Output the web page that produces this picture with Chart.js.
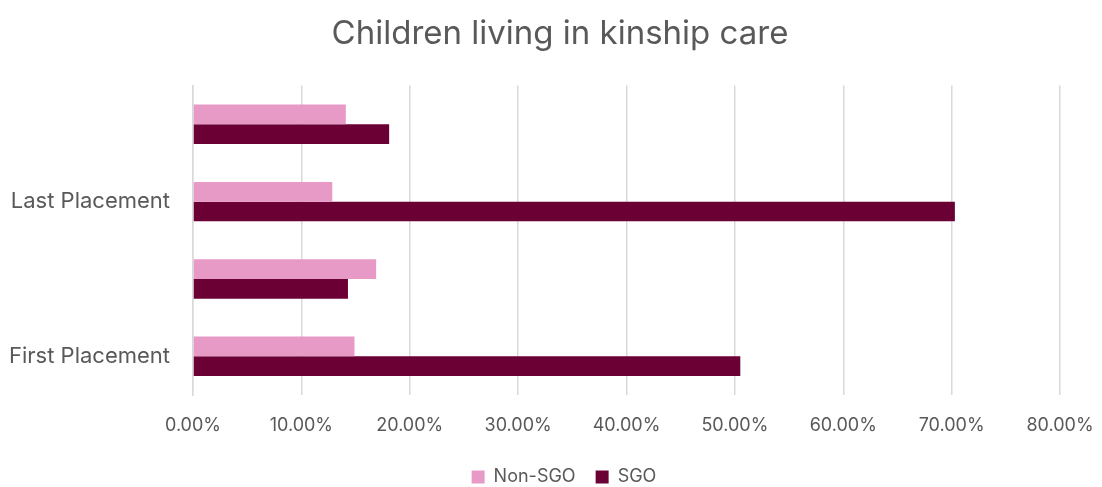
<!DOCTYPE html>
<html>
<head>
<meta charset="utf-8">
<script src="https://cdn.jsdelivr.net/npm/chart.js@4/dist/chart.umd.min.js"></script>
<style>
  html, body { margin: 0; padding: 0; background: #fff; }
  #wrap { width: 1102px; height: 487px; }
</style>
</head>
<body>
<div id="wrap"><canvas id="grafico"></canvas></div>
<script>
// categorias (de cima para baixo)
const categorias = ['', 'Last Placement', '', 'First Placement'];
const nonSgo = [14.1, 12.85, 16.9, 14.9];
const sgo = [18.1, 70.3, 14.3, 50.5];
const ticksX = [0, 10, 20, 30, 40, 50, 60, 70, 80];

const cinza = '#595959';
Chart.defaults.font.family = 'Inter, "Open Sans", sans-serif';

// desloca um bloco (titulo/legenda) na horizontal ao desenhar
function deslocar(bloco, dx) {
    if (!bloco || bloco._deslocado) return;
    const drawOrig = bloco.draw;
    bloco.draw = function() {
        const ctx = this.ctx;
        ctx.save();
        ctx.translate(dx, 0);
        drawOrig.apply(this, arguments);
        ctx.restore();
    };
    bloco._deslocado = true;
}

// legenda mais baixa sem perder o espaço entre os itens
const ajustesLayout = {
    id: 'ajustesLayout',
    beforeLayout(chart) {
        const lg = chart.legend;
        if (lg && !lg._ajustada) {
            const fitOrig = lg.fit;
            lg.fit = function() {
                fitOrig.call(this);
                this.height = 39;
            };
            lg._ajustada = true;
        }
        deslocar(chart.titleBlock, 9);
        deslocar(chart.legend, 13);
    }
};

new Chart(document.getElementById('grafico'), {
    type: 'bar',
    data: {
        labels: categorias,
        datasets: [
            {
                label: 'Non-SGO',
                data: nonSgo,
                backgroundColor: '#e89ac7',
                categoryPercentage: 0.51,
                barPercentage: 1
            },
            {
                label: 'SGO',
                data: sgo,
                backgroundColor: '#6b0035',
                categoryPercentage: 0.51,
                barPercentage: 1
            }
        ]
    },
    plugins: [ajustesLayout],
    options: {
        indexAxis: 'y',
        responsive: true,
        maintainAspectRatio: false,
        animation: false,
        layout: { padding: { left: 0, right: 0, top: 10, bottom: 0 } },
        plugins: {
            title: {
                display: true,
                text: 'Children living in kinship care',
                color: cinza,
                font: { size: 33, weight: 'normal' },
                padding: { top: 4, bottom: 32 }
            },
            legend: {
                position: 'bottom',
                labels: {
                    color: cinza,
                    font: { size: 18 },
                    boxWidth: 13,
                    boxHeight: 13,
                    padding: 20
                }
            },
            tooltip: { enabled: false }
        },
        scales: {
            x: {
                min: 0,
                max: 80,
                afterBuildTicks: axis => { axis.ticks = ticksX.map(v => ({ value: v })); },
                afterFit: axis => {
                    axis.height = 53;
                    axis.paddingRight = 42;
                },
                ticks: {
                    color: cinza,
                    font: { size: 18 },
                    padding: 20,
                    maxRotation: 0,
                    callback: v => v.toFixed(2) + '%'
                },
                grid: { color: '#d9d9d9', lineWidth: 1.5, drawTicks: false },
                border: { display: false }
            },
            y: {
                afterFit: axis => { axis.width = 193; },
                ticks: { color: cinza, font: { size: 22 }, padding: 23 },
                grid: { display: false, drawTicks: false },
                border: { display: true, color: '#d9d9d9', width: 1.5 }
            }
        }
    }
});
</script>
</body>
</html>
